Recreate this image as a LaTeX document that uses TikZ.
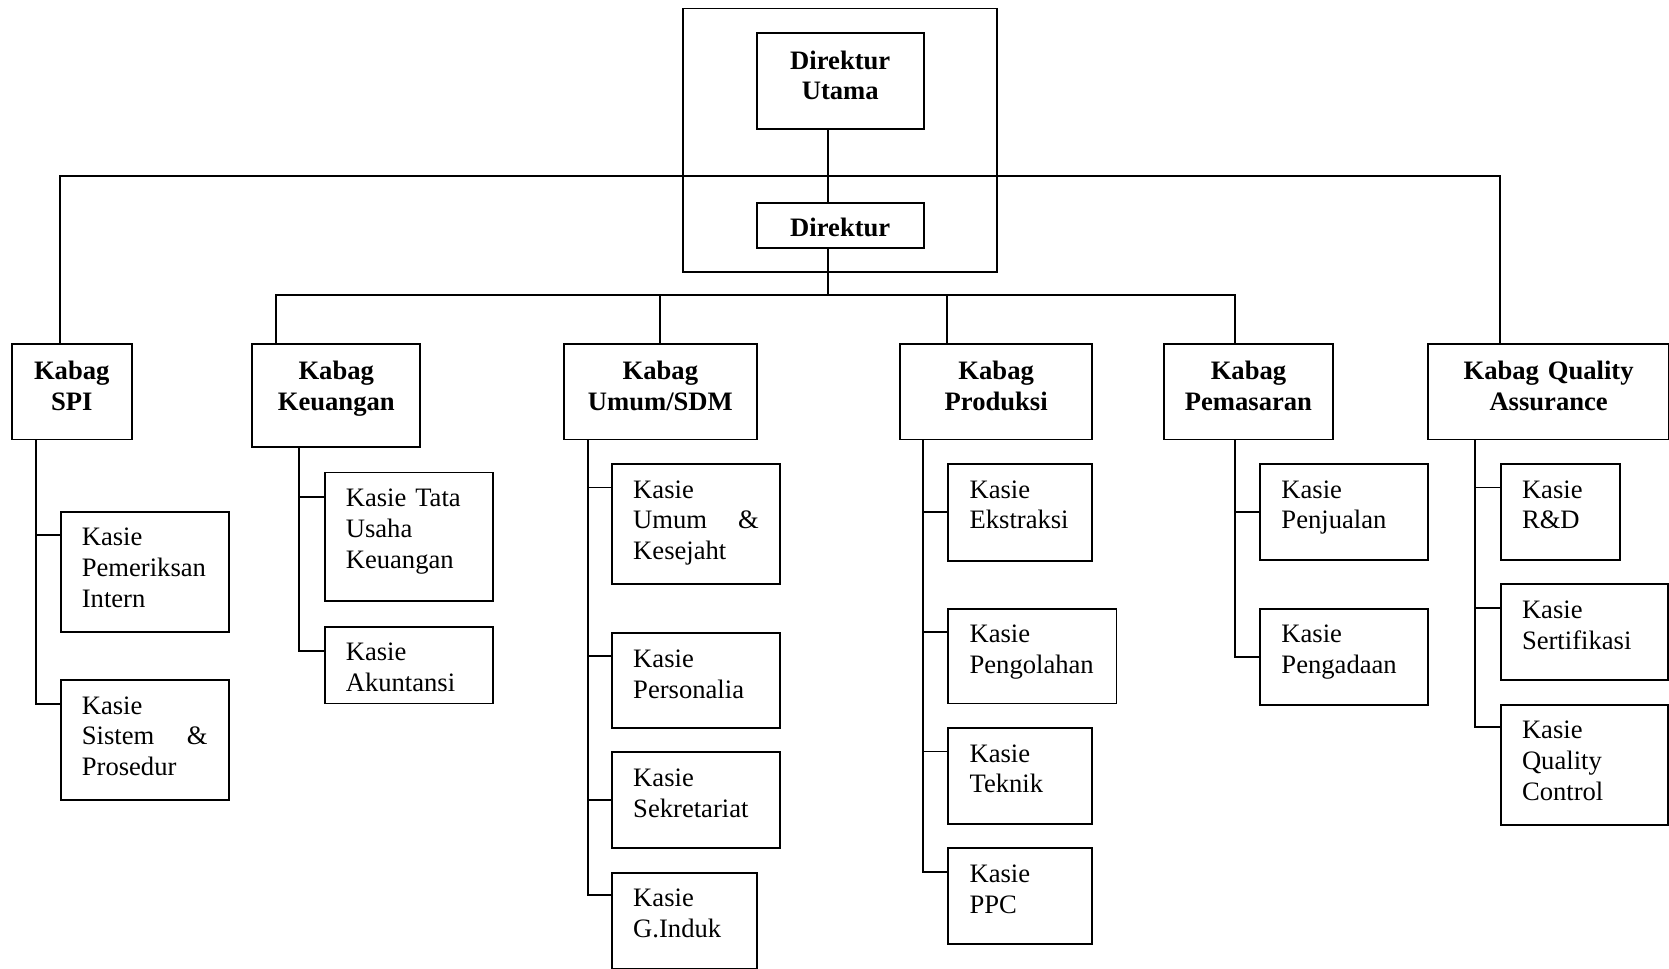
\documentclass[tikz,border=0pt]{standalone}
\usepackage{fontspec}
\setmainfont{Liberation Serif}
\usetikzlibrary{fit}

\begin{document}
\begin{tikzpicture}[x=1pt,y=-1pt,line width=1.8pt,
    kotak/.style={draw, anchor=north west, inner ysep=0pt, font=\fontsize{25}{29}\selectfont},
    kabag/.style 2 args={kotak, font=\fontsize{25}{29}\selectfont\bfseries, align=center, inner xsep=10pt, text width=#1, text height=34pt, text depth=#2},
    kasie/.style 2 args={kotak, align=left, inner xsep=20pt, text width=#1, text height=32pt, text depth=#2}]
    \useasboundingbox (0,0) rectangle (1568,910);
    %direksi
    \node (du) at (710,30) [kabag={137pt}{56pt}]{Direktur\\Utama};
    \node (dir) at (710,190) [kabag={137pt}{11pt}, text height=31pt]{Direktur};
    \node (bingkai) [draw, fit=(du)(dir), inner xsep=68pt, inner ysep=22pt]{};
    \coordinate (bus1) at (778,165);
    \coordinate (bus2) at (778,277);
    %kepala bagian
    \node (spi) at (10,322) [kabag={93pt}{56pt}]{Kabag\\SPI};
    \node (keu) at (236,322) [kabag={138pt}{63pt}]{Kabag\\Keuangan};
    \node (umum) at (529,322) [kabag={161pt}{56pt}]{Kabag\\Umum/SDM};
    \node (prod) at (845,322) [kabag={160pt}{56pt}]{Kabag\\Produksi};
    \node (pem) at (1093,322) [kabag={138pt}{56pt}]{Kabag\\Pemasaran};
    \node (qa) at (1341,322) [kabag={206pt}{56pt}]{Kabag Quality\\Assurance};
    %garis direksi
    \draw ([xshift=68pt]du.south west) -- ([xshift=68pt]dir.north west);
    \draw ([xshift=68pt]dir.south west) -- (bus2);
    \draw ([xshift=46pt]spi.north west) |- (bus1) -| ([xshift=68pt]qa.north west);
    \draw ([xshift=23pt]keu.north west) |- (bus2) -| ([xshift=67pt]pem.north west);
    \draw (umum.north) |- (bus2);
    \draw ([xshift=45pt]prod.north west) |- (bus2);
    %kasie SPI
    \node (kpi) at (56,480) [kasie={118pt}{81pt}]{Kasie\\Pemeriksan\\Intern};
    \node (ksp) at (56,638) [kasie={118pt}{81pt}]{Kasie\\Sistem \hfill \&\\Prosedur};
    \draw ([xshift=24pt]spi.south west) |- ([yshift=-23pt]kpi.north west);
    \draw ([xshift=24pt]spi.south west) |- ([yshift=-23pt]ksp.north west);
    %kasie keuangan
    \node (ktu) at (304,443) [kasie={118pt}{89pt}]{Kasie Tata\\Usaha\\Keuangan};
    \node (kak) at (304,588) [kasie={118pt}{40pt}]{Kasie\\Akuntansi};
    \draw ([xshift=45pt]keu.south west) |- ([yshift=-24pt]ktu.north west);
    \draw ([xshift=45pt]keu.south west) |- ([yshift=-24pt]kak.north west);
    %kasie umum/sdm
    \node (kum) at (574,435) [kasie={118pt}{81pt}]{Kasie\\Umum \hfill \&\\Kesejaht};
    \node (kpe) at (574,594) [kasie={118pt}{57pt}]{Kasie\\Personalia};
    \node (kse) at (574,706) [kasie={118pt}{58pt}]{Kasie\\Sekretariat};
    \node (kgi) at (574,819) [kasie={96pt}{58pt}]{Kasie\\G.Induk};
    \draw ([xshift=23pt]umum.south west) |- ([yshift=-23pt]kum.north west);
    \draw ([xshift=23pt]umum.south west) |- ([yshift=-22pt]kpe.north west);
    \draw ([xshift=23pt]umum.south west) |- (kse.west);
    \draw ([xshift=23pt]umum.south west) |- ([yshift=-22pt]kgi.north west);
    %kasie produksi
    \node (kek) at (890,435) [kasie={95pt}{59pt}]{Kasie\\Ekstraksi};
    \node (kpo) at (890,571) [kasie={118pt}{57pt}]{Kasie\\Pengolahan};
    \node (kte) at (890,683) [kasie={95pt}{58pt}]{Kasie\\Teknik};
    \node (kpp) at (890,796) [kasie={95pt}{58pt}]{Kasie\\PPC};
    \draw ([xshift=22pt]prod.south west) |- (kek.west);
    \draw ([xshift=22pt]prod.south west) |- ([yshift=-23pt]kpo.north west);
    \draw ([xshift=22pt]prod.south west) |- ([yshift=-23pt]kte.north west);
    \draw ([xshift=22pt]prod.south west) |- ([yshift=-23pt]kpp.north west);
    %kasie pemasaran
    \node (kpj) at (1183,435) [kasie={118pt}{58pt}]{Kasie\\Penjualan};
    \node (kpg) at (1183,571) [kasie={118pt}{58pt}]{Kasie\\Pengadaan};
    \draw ([xshift=67pt]pem.south west) |- (kpj.west);
    \draw ([xshift=67pt]pem.south west) |- (kpg.west);
    %kasie quality assurance
    \node (krd) at (1409,435) [kasie={72pt}{58pt}]{Kasie\\R\&D};
    \node (ksf) at (1409,548) [kasie={117pt}{58pt}]{Kasie\\Sertifikasi};
    \node (kqc) at (1409,661) [kasie={117pt}{81pt}]{Kasie\\Quality\\Control};
    \draw ([xshift=45pt]qa.south west) |- ([yshift=-23pt]krd.north west);
    \draw ([xshift=45pt]qa.south west) |- ([yshift=-23pt]ksf.north west);
    \draw ([xshift=45pt]qa.south west) |- ([yshift=-22pt]kqc.north west);
\end{tikzpicture}
\end{document}
